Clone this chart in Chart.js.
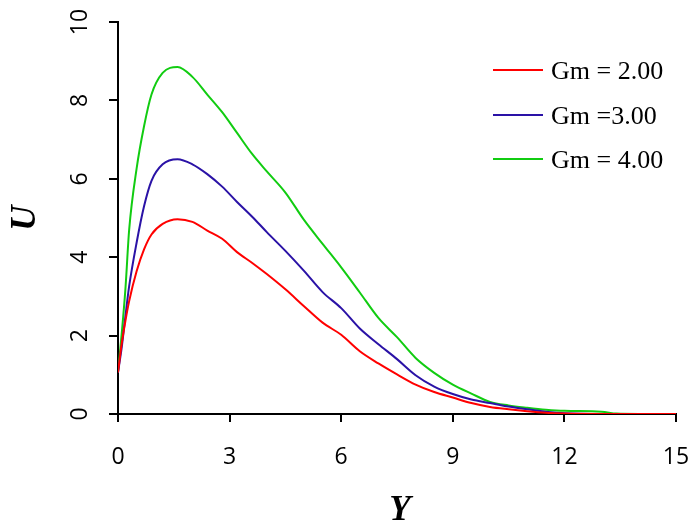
<!DOCTYPE html>
<html>
<head>
<meta charset="utf-8">
<script src="https://cdn.jsdelivr.net/npm/chart.js@4/dist/chart.umd.min.js"></script>
<style>
  html, body { margin: 0; padding: 0; background: #fff; }
  #wrap { width: 691px; height: 529px; }
</style>
</head>
<body>
<div id="wrap"><canvas id="velocityChart" width="691" height="529"></canvas></div>
<script>
// Velocity profiles U(Y) for three Grashof mass numbers
const yPos = [0, 0.1, 0.2, 0.3, 0.5, 0.7, 0.9, 1.2, 1.6, 2.0, 2.4, 2.8, 3.2, 3.6, 4.0, 4.5,
  5.0, 5.5, 6.0, 6.5, 7.0, 7.5, 8.0, 8.5, 9.0, 9.5, 10.0, 10.5, 11.0, 11.5, 12.0, 13.0, 13.4, 14.0, 15.0];
const uGm2 = [1.06, 1.8, 2.38, 2.88, 3.64, 4.2, 4.58, 4.85, 4.97, 4.9, 4.68, 4.47, 4.13, 3.86, 3.57, 3.18,
  2.75, 2.33, 2.02, 1.6, 1.29, 1.01, 0.75, 0.56, 0.42, 0.28, 0.18, 0.12, 0.07, 0.03, 0.01, 0, 0, 0, 0];
const uGm3 = [1.06, 1.7, 2.5, 3.26, 4.37, 5.3, 5.95, 6.37, 6.5, 6.37, 6.12, 5.8, 5.41, 5.04, 4.64, 4.16,
  3.65, 3.11, 2.7, 2.18, 1.78, 1.4, 0.99, 0.7, 0.51, 0.37, 0.28, 0.19, 0.12, 0.06, 0.02, 0, 0, 0, 0];
const uGm4 = [1.07, 2.05, 3.2, 4.7, 6.26, 7.34, 8.15, 8.7, 8.85, 8.6, 8.15, 7.7, 7.17, 6.64, 6.19, 5.65,
  4.95, 4.34, 3.74, 3.1, 2.45, 1.96, 1.43, 1.05, 0.75, 0.52, 0.31, 0.22, 0.16, 0.11, 0.08, 0.06, 0.01, 0, 0];
const seriesLabels = ['Gm = 2.00', 'Gm =3.00', 'Gm = 4.00'];
const seriesColors = ['#ff0000', '#2a12a6', '#11cc11'];
const xTicks = [0, 3, 6, 9, 12, 15];
const yTicks = [0, 2, 4, 6, 8, 10];

const toPoints = (vals) => vals.map((v, i) => ({ x: yPos[i], y: v }));

// y tick labels, axis titles and legend are painted by hand
const overlay = {
  id: 'overlay',
  afterDraw(chart) {
    const ctx = chart.ctx;
    const ys = chart.scales.y;
    ctx.save();
    ctx.fillStyle = '#000';
    ctx.textAlign = 'center';
    ctx.textBaseline = 'middle';

    ctx.font = '23px "Open Sans"';
    yTicks.forEach(t => {
      ctx.save();
      ctx.translate(79, ys.getPixelForValue(t));
      ctx.rotate(-Math.PI / 2);
      ctx.fillText(String(t), 0, 1);
      ctx.restore();
    });

    ctx.font = 'italic bold 35px "Liberation Serif"';
    ctx.fillText('Y', 400, 511);
    ctx.save();
    ctx.translate(26, 218);
    ctx.rotate(-Math.PI / 2);
    ctx.fillText('U', 0, 0);
    ctx.restore();

    ctx.font = '26px "Liberation Serif"';
    ctx.textAlign = 'left';
    const rows = [70, 115, 159];
    chart.data.datasets.forEach((ds, i) => {
      ctx.strokeStyle = ds.borderColor;
      ctx.lineWidth = 2;
      ctx.beginPath();
      ctx.moveTo(493, rows[i]);
      ctx.lineTo(543, rows[i]);
      ctx.stroke();
      ctx.fillText(ds.label, 551, rows[i] + 2);
    });
    ctx.restore();
  }
};

new Chart(document.getElementById('velocityChart'), {
  type: 'line',
  data: {
    datasets: [
      { label: seriesLabels[0], data: toPoints(uGm2), borderColor: seriesColors[0] },
      { label: seriesLabels[1], data: toPoints(uGm3), borderColor: seriesColors[1] },
      { label: seriesLabels[2], data: toPoints(uGm4), borderColor: seriesColors[2] }
    ]
  },
  options: {
    responsive: false,
    animation: false,
    layout: { padding: { left: 0, right: 15, top: 22, bottom: 0 } },
    elements: {
      line: { borderWidth: 2, cubicInterpolationMode: 'monotone', fill: false },
      point: { radius: 0 }
    },
    plugins: {
      legend: { display: false },
      tooltip: { enabled: false }
    },
    scales: {
      x: {
        type: 'linear',
        min: 0,
        max: 15,
        afterBuildTicks: (axis) => { axis.ticks = xTicks.map(v => ({ value: v })); },
        afterFit: (axis) => {
          axis.height = 115;
          // let the "15" label hang past the plot edge
          axis.paddingLeft = 0;
          axis.paddingRight = 0;
        },
        grid: { drawOnChartArea: false, drawTicks: true, tickLength: 8, color: '#000', lineWidth: 2 },
        border: { display: true, color: '#000', width: 2 },
        ticks: { color: '#000', padding: 22, maxRotation: 0, font: { family: 'Open Sans', size: 23 } }
      },
      y: {
        type: 'linear',
        min: 0,
        max: 10,
        afterBuildTicks: (axis) => { axis.ticks = yTicks.map(v => ({ value: v })); },
        afterFit: (axis) => { axis.width = 118; axis.paddingTop = 0; axis.paddingBottom = 0; },
        grid: { drawOnChartArea: false, drawTicks: true, tickLength: 9, color: '#000', lineWidth: 2 },
        border: { display: true, color: '#000', width: 2 },
        ticks: { display: false }
      }
    }
  },
  plugins: [overlay]
});
</script>
</body>
</html>
